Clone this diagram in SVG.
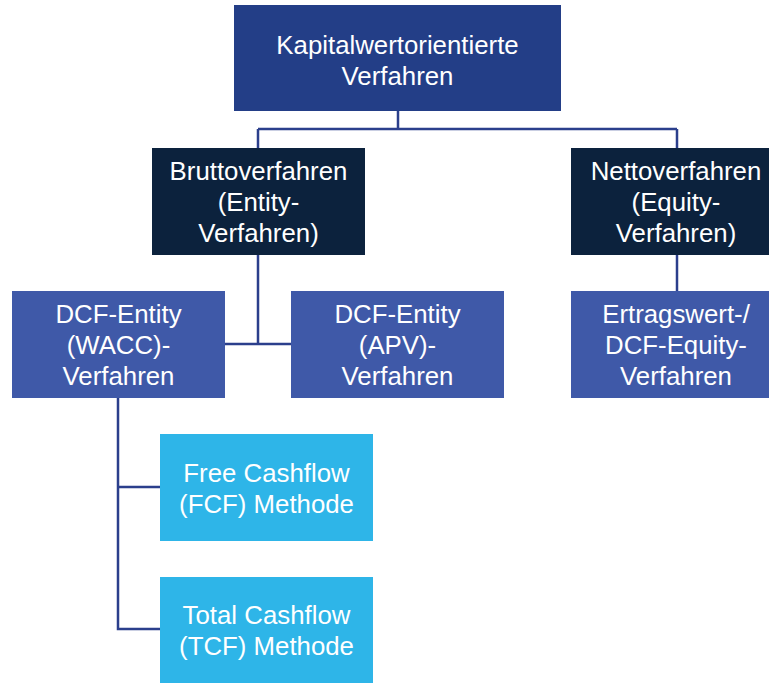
<svg xmlns="http://www.w3.org/2000/svg" width="769" height="683" viewBox="0 0 769 683">
<style>
.t{font-family:"Liberation Sans",Arial,sans-serif;font-size:25.8px;fill:#ffffff;text-anchor:middle}
.top{fill:#233E87}
.mid{fill:#0C223D}
.sub{fill:#3F59A8}
.lt{fill:#2EB5E8}
.c{stroke:#2B3F8C;stroke-width:2.5;fill:none}
</style>
<rect width="769" height="683" fill="#ffffff"/>
<g id="connectors">
<path class="c" d="M398 111V129M258 129H677M258 129V148M677 129V148"/>
<path class="c" d="M258 255V344M225 344H291"/>
<path class="c" d="M677 255V291"/>
<path class="c" d="M118 398V629H160M118 487H160"/>
</g>
<g id="n_top">
<rect class="top" x="234" y="5" width="327" height="106"/>
<text class="t" x="397.5" y="54">Kapitalwertorientierte</text>
<text class="t" x="397.5" y="85">Verfahren</text>
</g>
<g id="n_brutto">
<rect class="mid" x="152" y="148" width="213" height="107"/>
<text class="t" x="258.5" y="180">Bruttoverfahren</text>
<text class="t" x="258.5" y="211">(Entity-</text>
<text class="t" x="258.5" y="242">Verfahren)</text>
</g>
<g id="n_netto">
<rect class="mid" x="571" y="148" width="198" height="107"/>
<text class="t" x="676" y="180">Nettoverfahren</text>
<text class="t" x="676" y="211">(Equity-</text>
<text class="t" x="676" y="242">Verfahren)</text>
</g>
<g id="n_wacc">
<rect class="sub" x="12" y="291" width="213" height="107"/>
<text class="t" x="118.5" y="323">DCF-Entity</text>
<text class="t" x="118.5" y="354">(WACC)-</text>
<text class="t" x="118.5" y="385">Verfahren</text>
</g>
<g id="n_apv">
<rect class="sub" x="291" y="291" width="213" height="107"/>
<text class="t" x="397.5" y="323">DCF-Entity</text>
<text class="t" x="397.5" y="354">(APV)-</text>
<text class="t" x="397.5" y="385">Verfahren</text>
</g>
<g id="n_ertrag">
<rect class="sub" x="571" y="291" width="198" height="107"/>
<text class="t" x="676" y="323">Ertragswert-/</text>
<text class="t" x="676" y="354">DCF-Equity-</text>
<text class="t" x="676" y="385">Verfahren</text>
</g>
<g id="n_fcf">
<rect class="lt" x="160" y="434" width="213" height="107"/>
<text class="t" x="266.5" y="482">Free Cashflow</text>
<text class="t" x="266.5" y="513">(FCF) Methode</text>
</g>
<g id="n_tcf">
<rect class="lt" x="160" y="577" width="213" height="106"/>
<text class="t" x="266.5" y="624">Total Cashflow</text>
<text class="t" x="266.5" y="655">(TCF) Methode</text>
</g>
</svg>
